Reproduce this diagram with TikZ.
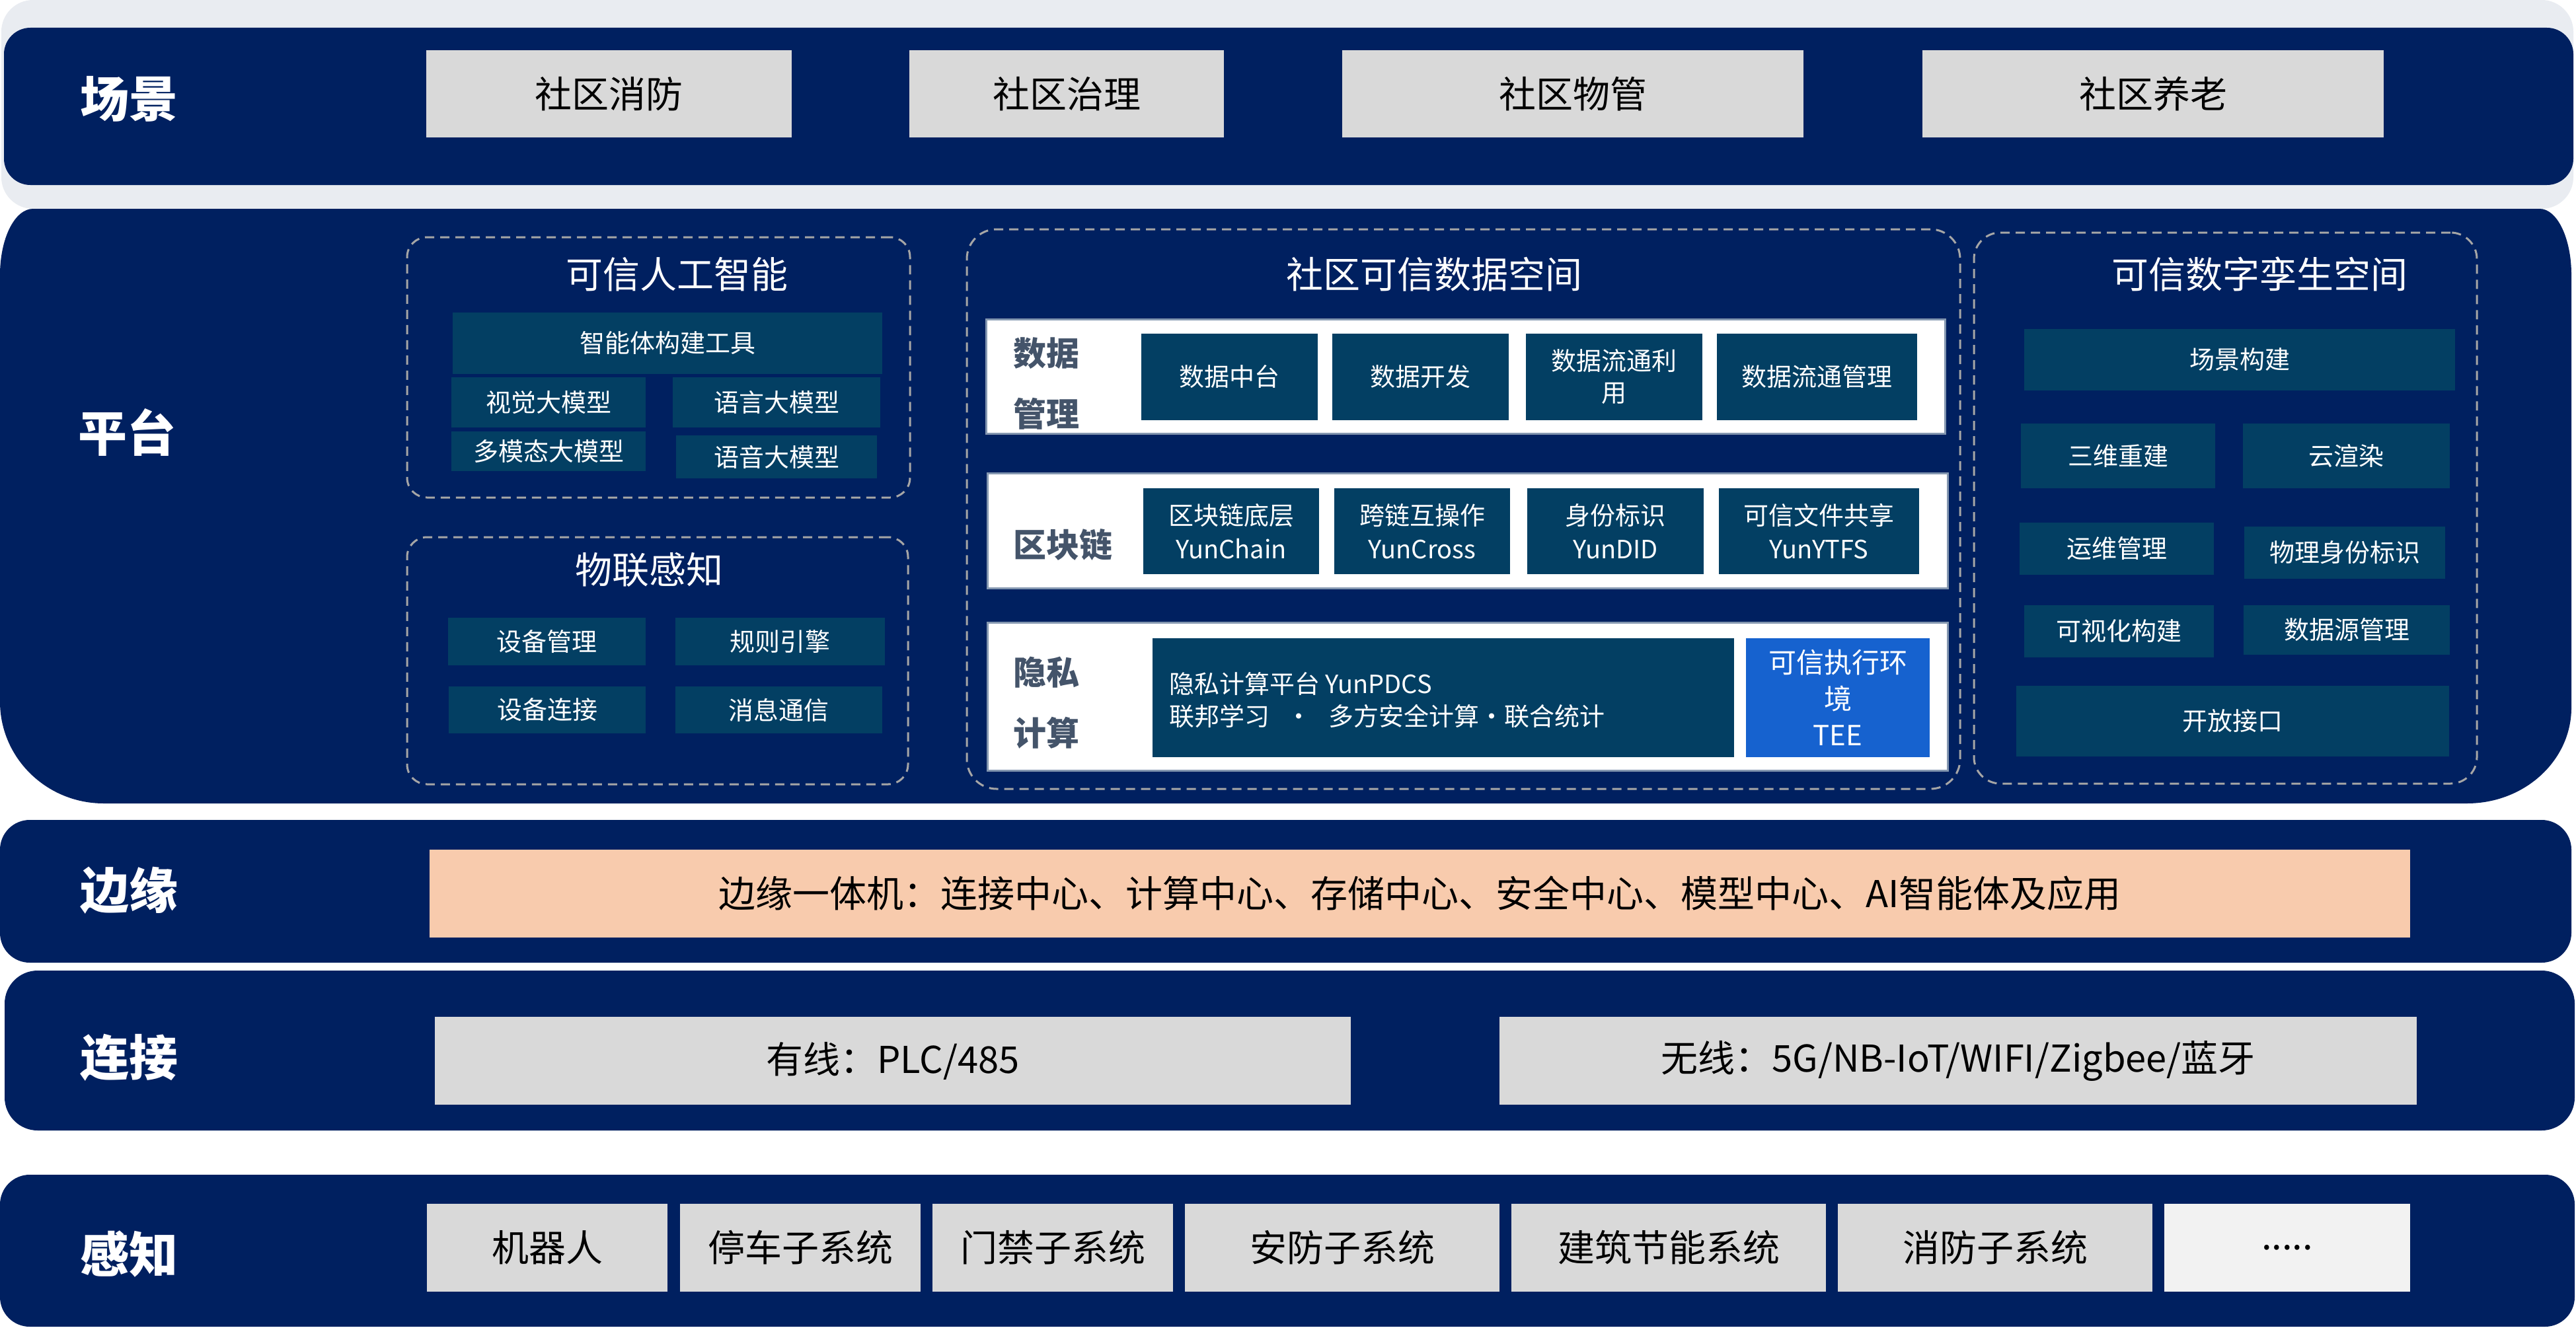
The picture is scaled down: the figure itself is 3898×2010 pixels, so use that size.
\documentclass[tikz,border=0pt]{standalone}
\usepackage{fontspec}
\setmainfont{Noto Sans CJK SC}
\definecolor{navy}{HTML}{002060}
\definecolor{bandgray}{HTML}{E9ECF1}
\definecolor{boxgray}{HTML}{D9D9D9}
\definecolor{lightbox}{HTML}{F2F2F2}
\definecolor{peach}{HTML}{F8CBAD}
\definecolor{inner}{HTML}{033F63}
\definecolor{teeblue}{HTML}{1662CF}
\definecolor{panelline}{HTML}{8497B0}
\definecolor{panellab}{HTML}{44546A}
\definecolor{dashgray}{HTML}{A6A6A6}
\newcommand\bx[7]{%
  \pgfmathsetmacro\bxw{#4-#2}%
  \pgfmathsetmacro\bxh{#5-#3}%
  \pgfmathsetmacro\bxcx{(#2+#4)/2}%
  \pgfmathsetmacro\bxcy{(#3+#5)/2}%
  \node[#6, minimum width=\bxw pt, minimum height=\bxh pt] (#1) at (\bxcx,\bxcy) {#7};}
\tikzset{
  box/.style={inner sep=0pt, outer sep=0pt, align=center},
  graybox/.style={box, fill=boxgray, text=black, font=\fontsize{56}{62}\selectfont},
  peachbox/.style={box, fill=peach, text=black, font=\fontsize{56}{62}\selectfont},
  lightgraybox/.style={box, fill=lightbox, text=black, font=\fontsize{56}{62}\selectfont},
  ibox/.style={box, fill=inner, text=white, font=\fontsize{38}{50}\selectfont},
  teebox/.style={box, fill=teeblue, text=white, font=\fontsize{42}{55}\selectfont},
  dashbox/.style={box, draw=dashgray, line width=3pt, dash pattern=on 14pt off 9pt, rounded corners=#1},
  dashbox/.default=30pt,
  panel/.style={box, fill=white, draw=panelline, line width=3pt},
  layerlab/.style={inner sep=0pt, text=white, font=\fontsize{74}{80}\selectfont\bfseries},
  title/.style={inner sep=0pt, text=white, font=\fontsize{56}{62}\selectfont},
  panellabel/.style={inner sep=0pt, align=center, text=panellab, font=\fontsize{50}{92}\selectfont\bfseries},
}
\begin{document}
\begin{tikzpicture}[x=1pt,y=-1pt]
\useasboundingbox (0,0) rectangle (3898,2010);
\fill[white] (0,0) rectangle (3898,2010);
% ---------- bands ----------
\fill[bandgray, rounded corners=48pt] (2,0) rectangle (3894,316);
\fill[navy, rounded corners=40pt] (6,42) rectangle (3894,280);
\fill[navy] (50,316) -- (3843,316)
  arc[start angle=-90, end angle=0, x radius=48, y radius=100] -- (3891,1071)
  arc[start angle=0, end angle=90, x radius=158, y radius=145] -- (157,1216)
  arc[start angle=90, end angle=180, x radius=157, y radius=154] -- (0,416)
  arc[start angle=180, end angle=270, x radius=50, y radius=100] -- cycle;
\fill[navy, rounded corners=45pt] (0,1241) rectangle (3891,1457);
\fill[navy, rounded corners=50pt] (7,1469) rectangle (3896,1711);
\fill[navy, rounded corners=45pt] (0,1778) rectangle (3896,2008);
% ---------- layer labels ----------
\node[layerlab] (lscene) at (195,150) {场景};
\node[layerlab] (lplat) at (192,654) {平台};
\node[layerlab] (ledge) at (195,1348) {边缘};
\node[layerlab] (lconn) at (195,1601) {连接};
\node[layerlab] (lsense) at (195,1898) {感知};
% ---------- scene ----------
\bx{s1}{645}{76}{1198}{208}{graybox}{社区消防}
\bx{s2}{1376}{76}{1852}{208}{graybox}{社区治理}
\bx{s3}{2031}{76}{2729}{208}{graybox}{社区物管}
\bx{s4}{2909}{76}{3607}{208}{graybox}{社区养老}
% ---------- platform: AI ----------
\bx{ai}{616}{359}{1377}{753}{dashbox}{}
\node[title] (aititle) at (1024,415) {可信人工智能};
\bx{ai1}{685}{473}{1335}{566}{ibox}{智能体构建工具}
\bx{ai2}{683}{571}{977}{647}{ibox}{视觉大模型}
\bx{ai3}{1018}{571}{1332}{647}{ibox}{语言大模型}
\bx{ai4}{683}{653}{977}{713}{ibox}{多模态大模型}
\bx{ai5}{1023}{659}{1327}{724}{ibox}{语音大模型}
% ---------- platform: IoT ----------
\bx{iot}{616}{813}{1374}{1187}{dashbox}{}
\node[title] (iottitle) at (982,862) {物联感知};
\bx{iot1}{678}{935}{977}{1007}{ibox}{设备管理}
\bx{iot2}{1022}{935}{1339}{1007}{ibox}{规则引擎}
\bx{iot3}{679}{1039}{977}{1110}{ibox}{设备连接}
\bx{iot4}{1022}{1039}{1335}{1110}{ibox}{消息通信}
% ---------- platform: data space ----------
\bx{ds}{1463}{347}{2966}{1194}{dashbox=45pt}{}
\node[title] (dstitle) at (2170,415) {社区可信数据空间};
\bx{pm}{1492}{483}{2943}{656}{panel}{}
\node[panellabel] (pmlab) at (1583,581) {数据\\管理};
\bx{pm1}{1727}{505}{1994}{636}{ibox}{数据中台}
\bx{pm2}{2016}{505}{2283}{636}{ibox}{数据开发}
\bx{pm3}{2309}{505}{2576}{636}{ibox, font=\fontsize{38}{48}\selectfont}{数据流通利\\用}
\bx{pm4}{2598}{505}{2901}{636}{ibox}{数据流通管理}
\bx{pb}{1494}{716}{2947}{890}{panel}{}
\node[panellabel] (pblab) at (1608,824) {区块链};
\bx{pb1}{1730}{739}{1996}{869}{ibox, font=\fontsize{38}{51}\selectfont}{区块链底层\\YunChain}
\bx{pb2}{2019}{739}{2285}{869}{ibox, font=\fontsize{38}{51}\selectfont}{跨链互操作\\YunCross}
\bx{pb3}{2311}{739}{2578}{869}{ibox, font=\fontsize{38}{51}\selectfont}{身份标识\\YunDID}
\bx{pb4}{2601}{739}{2904}{869}{ibox, font=\fontsize{38}{51}\selectfont}{可信文件共享\\YunYTFS}
\bx{pp}{1494}{942}{2947}{1166}{panel}{}
\node[panellabel] (pplab) at (1583,1064) {隐私\\计算};
\bx{pp1}{1744}{966}{2624}{1146}{ibox}{}
\node[inner sep=0pt, anchor=west, align=left, text=white, font=\fontsize{38}{49}\selectfont] (pp1text) at (1769,1060) {隐私计算平台 YunPDCS\\联邦学习 ~ • ~ 多方安全计算•联合统计};
\bx{pp2}{2642}{966}{2920}{1146}{teebox}{可信执行环\\境\\TEE}
% ---------- platform: digital twin ----------
\bx{dt}{2987}{352}{3748}{1186}{dashbox=40pt}{}
\node[title] (dttitle) at (3419,415) {可信数字孪生空间};
\bx{dt1}{3063}{498}{3715}{591}{ibox}{场景构建}
\bx{dt2}{3058}{641}{3352}{739}{ibox}{三维重建}
\bx{dt3}{3394}{641}{3707}{739}{ibox}{云渲染}
\bx{dt4}{3056}{791}{3350}{870}{ibox}{运维管理}
\bx{dt5}{3396}{797}{3700}{876}{ibox}{物理身份标识}
\bx{dt6}{3063}{916}{3350}{995}{ibox}{可视化构建}
\bx{dt7}{3395}{916}{3707}{991}{ibox}{数据源管理}
\bx{dt8}{3051}{1038}{3706}{1145}{ibox}{开放接口}
% ---------- edge ----------
\bx{e1}{650}{1286}{3647}{1419}{peachbox}{边缘一体机：连接中心、计算中心、存储中心、安全中心、模型中心、AI智能体及应用}
% ---------- connect ----------
\bx{c1}{658}{1539}{2044}{1672}{graybox}{有线：PLC/485}
\bx{c2}{2269}{1539}{3657}{1672}{graybox}{无线：5G/NB-IoT/WIFI/Zigbee/蓝牙}
% ---------- sense ----------
\bx{k1}{646}{1822}{1010}{1955}{graybox}{机器人}
\bx{k2}{1029}{1822}{1393}{1955}{graybox}{停车子系统}
\bx{k3}{1411}{1822}{1775}{1955}{graybox}{门禁子系统}
\bx{k4}{1793}{1822}{2269}{1955}{graybox}{安防子系统}
\bx{k5}{2287}{1822}{2763}{1955}{graybox}{建筑节能系统}
\bx{k6}{2781}{1822}{3257}{1955}{graybox}{消防子系统}
\bx{k7}{3275}{1822}{3647}{1955}{lightgraybox}{.....}
\end{tikzpicture}
\end{document}
